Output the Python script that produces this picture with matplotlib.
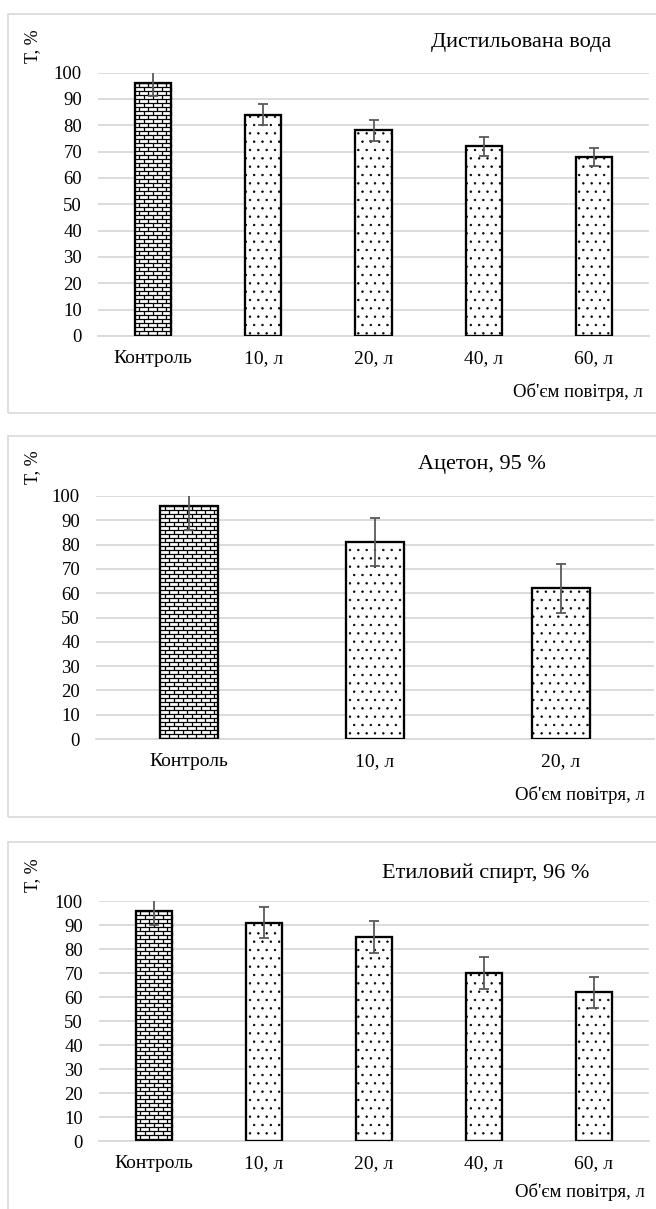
import numpy as np
import matplotlib
matplotlib.use('Agg')
import matplotlib.pyplot as plt
from matplotlib.patches import Rectangle
from matplotlib.collections import LineCollection

plt.rcParams['font.family'] = ['Liberation Serif', 'DejaVu Serif']
plt.rcParams['hatch.linewidth'] = 0.5

W, H = 656, 1209

cat_water = ['Контроль', '10, л', '20, л', '40, л', '60, л']
water = [96, 84, 78, 72, 68]
water_err = [5, 4, 4, 3.5, 3.5]

cat_acet = ['Контроль', '10, л', '20, л']
acetone = [96, 81, 62]
acetone_err = [10, 10, 10]

cat_eth = ['Контроль', '10, л', '20, л', '40, л', '60, л']
ethanol = [96, 91, 85, 70, 62]
ethanol_err = [6, 6.5, 6.5, 6.5, 6.5]

titles = ['Дистильована вода', 'Ацетон, 95 %', 'Етиловий спирт, 96 %']
ylab = 'T, %'
xlab = "Об'єм повітря, л"

GRID = '#d9d9d9'


def fx(x):
    return x / W


def fy(y):
    return 1 - y / H


def bricks(ax, bar, row_px=4.0, brick_px=9.0):
    # brick texture for the control bar, thin lines clipped to the bar
    x0, y0 = bar.get_x(), bar.get_y()
    x1, y1 = x0 + bar.get_width(), y0 + bar.get_height()
    p0 = ax.transData.transform((x0, y0))
    p1 = ax.transData.transform((x1, y1))
    sx = (x1 - x0) / (p1[0] - p0[0])
    sy = (y1 - y0) / (p1[1] - p0[1])
    dy = row_px * sy
    dx = brick_px * sx
    segs = []
    yy = y1
    k = 0
    while yy > y0:
        segs.append([(x0, yy), (x1, yy)])
        ybot = max(yy - dy, y0)
        xx = x0 + (dx / 2 if k % 2 else 0) + dx / 2
        while xx < x1:
            segs.append([(xx, yy), (xx, ybot)])
            xx += dx
        yy -= dy
        k += 1
    lc = LineCollection(segs, colors='black', linewidths=0.9, zorder=2.5)
    lc.set_clip_path(bar)
    ax.add_collection(lc)


def panel(fig, box, axrect, cats, vals, errs, title, title_xy, ylab_xy, xlab_xy, bw):
    # light frame around the whole panel
    x0, y0, x1, y1 = box
    fig.add_artist(Rectangle((fx(x0), fy(y1)), fx(x1) - fx(x0), fy(y0) - fy(y1),
                             transform=fig.transFigure, fill=False, ec=GRID, lw=1.2))
    l, r, t, b = axrect
    ax = fig.add_axes([fx(l), fy(b), fx(r) - fx(l), fy(t) - fy(b)])
    x = np.arange(len(cats))
    ax.set_xlim(-0.5, len(cats) - 0.5)
    ax.set_ylim(0, 100)
    bars = ax.bar(x, vals, bw, color='white', edgecolor='black', lw=1.5,
                  hatch='..', zorder=2)
    bars[0].set_hatch(None)
    bricks(ax, bars[0])
    # outlines on top of the texture
    ax.bar(x, vals, bw, color='none', edgecolor='black', lw=1.6, zorder=3)
    ax.errorbar(x, vals, yerr=errs, fmt='none', ecolor='#595959', elinewidth=1.3,
                capsize=3.5, capthick=1.3, zorder=4)
    ax.set_xlim(-0.5, len(cats) - 0.5)
    ax.set_ylim(0, 100)
    ax.set_yticks(np.arange(0, 101, 10))
    ax.set_xticks(x, cats)
    ax.yaxis.grid(True, color=GRID, lw=1.3)
    ax.set_axisbelow(True)
    for s in ['top', 'right', 'left']:
        ax.spines[s].set_visible(False)
    ax.spines['bottom'].set_color(GRID)
    ax.spines['bottom'].set_linewidth(1.3)
    ax.tick_params(axis='y', length=0, pad=11.5, labelsize=13.5)
    ax.tick_params(axis='x', length=0, pad=10, labelsize=14)

    fig.text(fx(title_xy[0]), fy(title_xy[1]), title, ha='center', va='center', fontsize=16)
    fig.text(fx(ylab_xy[0]), fy(ylab_xy[1]), ylab, rotation=90, ha='center', va='center',
             fontsize=13)
    fig.text(fx(xlab_xy[0]), fy(xlab_xy[1]), xlab, ha='right', va='center', fontsize=13.5)
    return ax


fig = plt.figure(figsize=(W / 100, H / 100), dpi=100)

panel(fig, (8, 14, 662, 413), (98, 649, 72.5, 336), cat_water, water, water_err,
      titles[0], (521, 43), (33, 46), (643, 392), 0.33)
panel(fig, (8, 436, 662, 817), (96, 654, 496, 739), cat_acet, acetone, acetone_err,
      titles[1], (482, 465), (33, 467), (645, 795), 0.31)
panel(fig, (8, 842, 662, 1215), (99, 649, 901, 1141), cat_eth, ethanol, ethanol_err,
      titles[2], (486, 873), (33, 875), (645, 1192), 0.33)

plt.savefig('out.png', dpi=100)
